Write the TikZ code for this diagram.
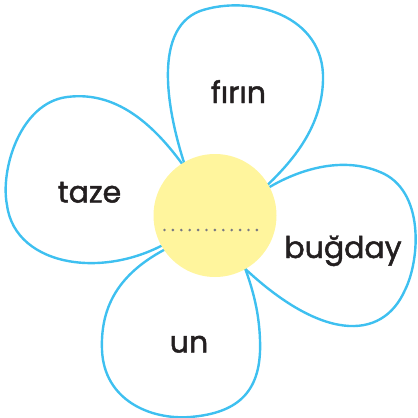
\documentclass[tikz,border=0pt]{standalone}
\usepackage{fontspec}
\setmainfont{Poppins}[FakeBold=1.6,AutoFakeBold=1.6]
\usepackage{tikz}
\usetikzlibrary{positioning}
\definecolor{petalblue}{RGB}{62,192,240}
\definecolor{heartyellow}{RGB}{255,245,157}
\definecolor{inkgray}{RGB}{120,120,130}
\definecolor{ink}{RGB}{35,31,32}

\begin{document}
\begin{tikzpicture}[x=1pt,y=-1pt, every node/.style={font=\fontsize{30}{34}\selectfont\bfseries,text=ink}]
\tikzstyle{petal}=[draw=petalblue,line width=2.4pt,line join=round]
\tikzstyle{word}=[anchor=base,inner sep=0pt]
\tikzstyle{dotline}=[draw=inkgray,line width=2.9pt,line cap=round,dash pattern=on 0pt off 8.4pt]
\useasboundingbox (0,0) rectangle (418,418);
% petals (tips hidden under the centre)
\draw[petal] (190,180) .. controls (168,120) and (150,30) .. (200,11) .. controls (250,-6) and (325,15) .. (323,80) .. controls (322,125) and (295,160) .. (262,190);
\draw[petal] (192,178) .. controls (160,130) and (120,90) .. (67,97) .. controls (20,103) and (0,170) .. (7,205) .. controls (15,268) and (110,282) .. (178,236);
\draw[petal] (250,200) .. controls (290,170) and (340,155) .. (380,172) .. controls (425,190) and (420,260) .. (405,290) .. controls (382,342) and (320,342) .. (238,262);
\draw[petal] (185,240) .. controls (125,265) and (100,300) .. (102,350) .. controls (104,400) and (150,420) .. (190,417) .. controls (240,413) and (262,390) .. (260,340) .. controls (259,310) and (252,285) .. (240,255);
% centre
\node[circle,fill=heartyellow,minimum size=123pt,inner sep=0pt] (heart) at (215,215.5) {};
\coordinate (dotL) at (164.5,230);
\coordinate (dotR) at (265,230);
\draw[dotline] (dotL) -- (dotR);
% words
\node[word] (firin) at (238.5,103) {fırın};
\node[word] (taze) at (89.5,202.5) {taze};
\node[word] (bugday) at (343,258) {buğday};
\node[word] (un) at (189,352.5) {un};
\end{tikzpicture}
\end{document}
